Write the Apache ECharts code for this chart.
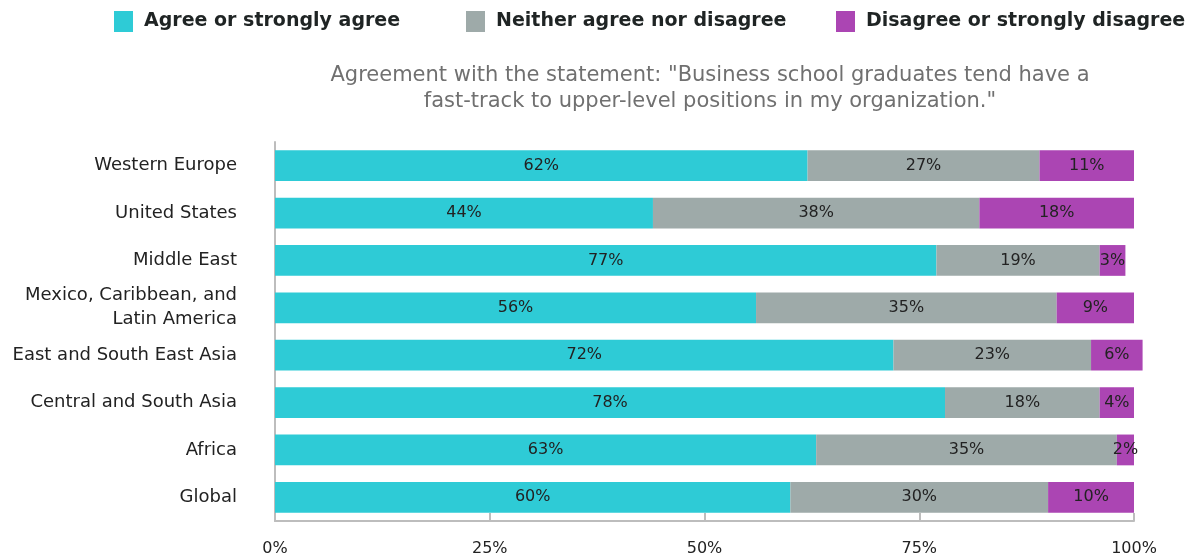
<!DOCTYPE html>
<html><head><meta charset="utf-8">
<script src="https://cdn.jsdelivr.net/npm/echarts@6/dist/echarts.min.js"></script>
<style>html,body{margin:0;padding:0;background:#fff}#c{width:1201px;height:559px}</style>
</head><body><div id="c"></div>
<script>
const categories = ['Western Europe','United States','Middle East','Mexico, Caribbean, and\nLatin America','East and South East Asia','Central and South Asia','Africa','Global'];
const agree = [62,44,77,56,72,78,63,60];
const neither = [27,38,19,35,23,18,35,30];
const disagree = [11,18,3,9,6,4,2,10];
const seriesNames = ['Agree or strongly agree','Neither agree nor disagree','Disagree or strongly disagree'];
const colors = ['#2ECBD6','#9EAAA9','#AB45B3'];
const xTicks = [0,25,50,75,100];

const FONT = '"DejaVu Sans", sans-serif';
const chart = echarts.init(document.getElementById('c'), null, {renderer:'canvas'});
const mk = (name, data, i) => ({
  name, type:'bar', stack:'all', data, barCategoryGap:'35%', clip:false,
  itemStyle:{color:colors[i]},
  label:{show:true, position:'inside', formatter:p=>p.value+'%', color:'#222', fontFamily:FONT, fontSize:16},
  emphasis:{disabled:true}
});
const legendAt = (i, left) => ({
  top:11, left, itemWidth:19, itemHeight:21, itemGap:0, icon:'rect', padding:0,
  textStyle:{fontSize:19, fontWeight:'bold', color:'#1f2424', fontFamily:FONT, padding:[2,0,0,6]},
  data:[seriesNames[i]]
});
chart.setOption({
  animation:false,
  textStyle:{fontFamily:FONT},
  title:{text:'Agreement with the statement: "Business school graduates tend have a\nfast-track to upper-level positions in my organization."',
    left:705, top:58, textAlign:'center',
    textStyle:{color:'#707070', fontSize:21, fontWeight:'normal', lineHeight:26, fontFamily:FONT}},
  legend:[legendAt(0,114), legendAt(1,466), legendAt(2,836)],
  grid:{left:275, right:67, top:142, bottom:38},
  xAxis:{type:'value', min:0, max:100, interval:25,
    axisLine:{show:true, lineStyle:{color:'#bdbdbd', width:2}},
    axisTick:{show:true, inside:true, length:8, lineStyle:{color:'#bdbdbd', width:2}},
    splitLine:{show:false},
    axisLabel:{formatter:v=>v+'%', color:'#222', fontSize:16, margin:20, fontFamily:FONT}},
  yAxis:{type:'category', inverse:true, data:categories,
    axisLine:{show:true, lineStyle:{color:'#bdbdbd', width:2}},
    axisTick:{show:false},
    axisLabel:{color:'#222', fontSize:18, margin:38, lineHeight:24, align:'right', fontFamily:FONT}},
  series:[mk(seriesNames[0],agree,0), mk(seriesNames[1],neither,1), mk(seriesNames[2],disagree,2)]
});
</script></body></html>
